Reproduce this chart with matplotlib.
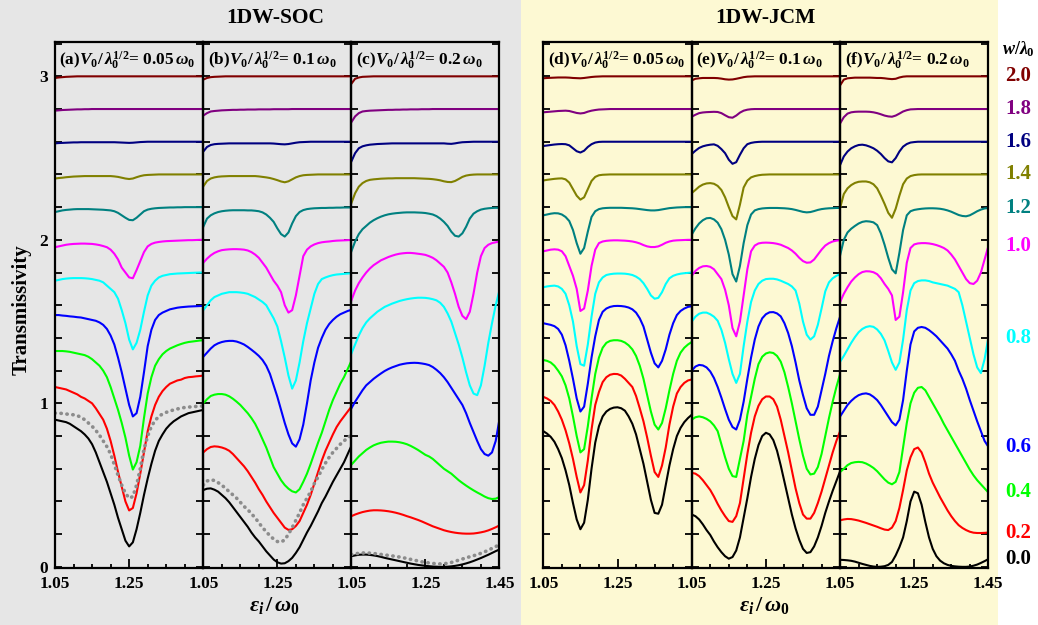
import numpy as np
import matplotlib.pyplot as plt
from matplotlib.patches import Rectangle
from matplotlib.ticker import MultipleLocator
from matplotlib.transforms import blended_transform_factory

plt.rcParams['font.family'] = 'Liberation Serif'
plt.rcParams['font.weight'] = 'bold'
plt.rcParams['mathtext.fontset'] = 'custom'
plt.rcParams['mathtext.rm'] = 'Liberation Serif:bold'
plt.rcParams['mathtext.it'] = 'Liberation Serif:italic:bold'
plt.rcParams['mathtext.bf'] = 'Liberation Serif:bold'
plt.rcParams['axes.linewidth'] = 1.6

# incident energy eps_i / omega_0, sampled every 0.01
eps = np.linspace(1.05, 1.45, 41)

# wall width w / lambda_0 ; each curve is shifted up by its own w
widths = [0.0, 0.2, 0.4, 0.6, 0.8, 1.0, 1.2, 1.4, 1.6, 1.8, 2.0]
width_labels = ['0.0', '0.2', '0.4', '0.6', '0.8', '1.0', '1.2', '1.4', '1.6', '1.8', '2.0']
colors = ['#000000', '#ff0000', '#00ff00', '#0000ff', '#00ffff', '#ff00ff',
          '#008080', '#808000', '#000080', '#800080', '#800000']

# ---------------- 1DW-SOC, V0/sqrt(lambda0) = 0.05 w0 ----------------
soc_a = [
    [0.90, 0.895, 0.89, 0.885, 0.875, 0.86, 0.845, 0.83, 0.81, 0.785,
     0.75, 0.70, 0.64, 0.58, 0.52, 0.45, 0.38, 0.30, 0.23, 0.16,
     0.125, 0.15, 0.23, 0.33, 0.44, 0.54, 0.63, 0.71, 0.77, 0.81,
     0.845, 0.87, 0.89, 0.905, 0.92, 0.93, 0.94, 0.945, 0.95, 0.955, 0.96],
    [0.90, 0.895, 0.89, 0.885, 0.875, 0.865, 0.855, 0.84, 0.83, 0.815,
     0.80, 0.77, 0.735, 0.70, 0.645, 0.57, 0.48, 0.38, 0.29, 0.20,
     0.145, 0.16, 0.25, 0.37, 0.50, 0.63, 0.72, 0.79, 0.84, 0.875,
     0.90, 0.92, 0.93, 0.94, 0.945, 0.955, 0.96, 0.962, 0.965, 0.967, 0.97],
    [0.92, 0.92, 0.92, 0.918, 0.915, 0.91, 0.905, 0.90, 0.895, 0.885,
     0.87, 0.85, 0.83, 0.80, 0.76, 0.70, 0.63, 0.56, 0.48, 0.39,
     0.28, 0.195, 0.24, 0.34, 0.51, 0.66, 0.76, 0.83, 0.87, 0.90,
     0.92, 0.935, 0.945, 0.955, 0.963, 0.97, 0.975, 0.978, 0.981, 0.984, 0.986],
    [0.94, 0.94, 0.937, 0.935, 0.932, 0.93, 0.927, 0.925, 0.92, 0.915,
     0.91, 0.905, 0.895, 0.88, 0.855, 0.815, 0.76, 0.68, 0.59, 0.49,
     0.39, 0.32, 0.34, 0.44, 0.59, 0.75, 0.85, 0.91, 0.94, 0.955,
     0.965, 0.975, 0.98, 0.985, 0.988, 0.99, 0.992, 0.993, 0.994, 0.995, 0.996],
    [0.95, 0.955, 0.96, 0.963, 0.965, 0.966, 0.966, 0.966, 0.965, 0.963,
     0.96, 0.955, 0.95, 0.94, 0.92, 0.90, 0.88, 0.84, 0.77, 0.69,
     0.59, 0.53, 0.57, 0.65, 0.76, 0.86, 0.92, 0.95, 0.97, 0.98,
     0.985, 0.99, 0.992, 0.994, 0.995, 0.996, 0.997, 0.998, 0.999, 1.0, 1.0],
    [0.955, 0.96, 0.965, 0.97, 0.973, 0.975, 0.976, 0.977, 0.977, 0.976,
     0.975, 0.972, 0.968, 0.962, 0.955, 0.94, 0.915, 0.88, 0.83, 0.80,
     0.77, 0.765, 0.815, 0.87, 0.925, 0.96, 0.975, 0.983, 0.987, 0.99,
     0.992, 0.993, 0.994, 0.995, 0.996, 0.997, 0.998, 0.998, 0.999, 1.0, 1.0],
    [0.97, 0.975, 0.98, 0.983, 0.985, 0.987, 0.988, 0.988, 0.988, 0.988,
     0.987, 0.986, 0.985, 0.984, 0.982, 0.98, 0.975, 0.965, 0.95, 0.935,
     0.922, 0.92, 0.935, 0.955, 0.975, 0.985, 0.99, 0.993, 0.995, 0.996,
     0.997, 0.998, 0.998, 0.999, 0.999, 1.0, 1.0, 1.0, 1.0, 1.0, 1.0],
    [0.975, 0.978, 0.98, 0.983, 0.985, 0.987, 0.988, 0.989, 0.99, 0.99,
     0.99, 0.99, 0.99, 0.99, 0.99, 0.99, 0.988, 0.985, 0.98, 0.975,
     0.972, 0.975, 0.983, 0.99, 0.995, 0.997, 0.998, 0.999, 1.0, 1.0,
     1.0, 1.0, 1.0, 1.0, 1.0, 1.0, 1.0, 1.0, 1.0, 1.0, 1.0],
    [0.99, 0.992, 0.993, 0.994, 0.995, 0.996, 0.996, 0.997, 0.997, 0.997,
     0.997, 0.997, 0.997, 0.997, 0.997, 0.997, 0.997, 0.996, 0.995, 0.994,
     0.993, 0.994, 0.996, 0.998, 0.999, 1.0, 1.0, 1.0, 1.0, 1.0,
     1.0, 1.0, 1.0, 1.0, 1.0, 1.0, 1.0, 1.0, 1.0, 1.0, 1.0],
    [0.99, 0.992, 0.994, 0.995, 0.996, 0.997, 0.998, 0.998, 0.999, 0.999,
     1.0, 1.0, 1.0, 1.0, 1.0, 1.0, 1.0, 1.0, 1.0, 1.0,
     1.0, 1.0, 1.0, 1.0, 1.0, 1.0, 1.0, 1.0, 1.0, 1.0,
     1.0, 1.0, 1.0, 1.0, 1.0, 1.0, 1.0, 1.0, 1.0, 1.0, 1.0],
    [0.99, 0.993, 0.995, 0.997, 0.998, 0.999, 1.0, 1.0, 1.0, 1.0,
     1.0, 1.0, 1.0, 1.0, 1.0, 1.0, 1.0, 1.0, 1.0, 1.0,
     1.0, 1.0, 1.0, 1.0, 1.0, 1.0, 1.0, 1.0, 1.0, 1.0,
     1.0, 1.0, 1.0, 1.0, 1.0, 1.0, 1.0, 1.0, 1.0, 1.0, 1.0],
]
soc_a_ref = [0.94, 0.94, 0.938, 0.935, 0.932, 0.93, 0.925, 0.915, 0.90, 0.88,
             0.86, 0.835, 0.805, 0.77, 0.735, 0.69, 0.625, 0.56, 0.50, 0.45,
             0.42, 0.43, 0.50, 0.60, 0.72, 0.80, 0.86, 0.895, 0.92, 0.935,
             0.945, 0.953, 0.96, 0.966, 0.97, 0.975, 0.977, 0.979, 0.981, 0.983, 0.984]

# ---------------- 1DW-SOC, V0/sqrt(lambda0) = 0.1 w0 ----------------
soc_b = [
    [0.47, 0.478, 0.48, 0.472, 0.46, 0.44, 0.42, 0.395, 0.365, 0.335,
     0.305, 0.275, 0.245, 0.21, 0.18, 0.155, 0.125, 0.095, 0.07, 0.045,
     0.028, 0.02, 0.022, 0.035, 0.055, 0.085, 0.12, 0.165, 0.21, 0.25,
     0.295, 0.34, 0.39, 0.43, 0.475, 0.52, 0.56, 0.60, 0.64, 0.69, 0.74],
    [0.50, 0.52, 0.533, 0.537, 0.535, 0.53, 0.522, 0.51, 0.49, 0.465,
     0.44, 0.415, 0.385, 0.35, 0.315, 0.275, 0.24, 0.20, 0.165, 0.13,
     0.10, 0.07, 0.04, 0.026, 0.03, 0.05, 0.08, 0.13, 0.18, 0.24,
     0.31, 0.38, 0.45, 0.51, 0.56, 0.61, 0.655, 0.69, 0.72, 0.75, 0.78],
    [0.60, 0.625, 0.645, 0.653, 0.657, 0.657, 0.653, 0.643, 0.628, 0.61,
     0.59, 0.565, 0.54, 0.51, 0.475, 0.43, 0.38, 0.33, 0.27, 0.21,
     0.17, 0.13, 0.10, 0.078, 0.062, 0.055, 0.075, 0.12, 0.17, 0.23,
     0.295, 0.36, 0.42, 0.49, 0.56, 0.62, 0.67, 0.72, 0.76, 0.81, 0.86],
    [0.685, 0.71, 0.735, 0.755, 0.767, 0.775, 0.78, 0.782, 0.782, 0.778,
     0.77, 0.76, 0.745, 0.728, 0.71, 0.69, 0.665, 0.63, 0.58, 0.51,
     0.44, 0.36, 0.28, 0.21, 0.155, 0.135, 0.18, 0.27, 0.40, 0.54,
     0.65, 0.74, 0.80, 0.85, 0.885, 0.91, 0.93, 0.945, 0.955, 0.965, 0.972],
    [0.77, 0.80, 0.83, 0.85, 0.86, 0.87, 0.875, 0.88, 0.88, 0.88,
     0.878, 0.875, 0.87, 0.86, 0.85, 0.835, 0.82, 0.80, 0.76, 0.72,
     0.67, 0.58, 0.48, 0.37, 0.29, 0.34, 0.45, 0.58, 0.69, 0.78,
     0.87, 0.93, 0.96, 0.97, 0.978, 0.984, 0.988, 0.99, 0.992, 0.994, 0.995],
    [0.86, 0.885, 0.905, 0.92, 0.93, 0.937, 0.94, 0.942, 0.943, 0.943,
     0.942, 0.94, 0.935, 0.925, 0.91, 0.89, 0.86, 0.83, 0.79, 0.75,
     0.72, 0.68, 0.60, 0.555, 0.57, 0.66, 0.78, 0.90, 0.94, 0.96,
     0.972, 0.98, 0.985, 0.988, 0.99, 0.993, 0.995, 0.996, 0.997, 0.998, 0.999],
    [0.88, 0.93, 0.95, 0.962, 0.97, 0.975, 0.978, 0.98, 0.981, 0.981,
     0.981, 0.981, 0.98, 0.98, 0.978, 0.975, 0.968, 0.955, 0.935, 0.91,
     0.87, 0.835, 0.82, 0.845, 0.90, 0.945, 0.97, 0.982, 0.988, 0.991,
     0.993, 0.994, 0.995, 0.995, 0.996, 0.996, 0.997, 0.997, 0.998, 0.998, 0.998],
    [0.927, 0.96, 0.975, 0.982, 0.986, 0.988, 0.989, 0.99, 0.99, 0.99,
     0.99, 0.99, 0.99, 0.99, 0.99, 0.988, 0.985, 0.982, 0.978, 0.972,
     0.965, 0.957, 0.952, 0.958, 0.97, 0.982, 0.99, 0.995, 0.997, 0.998,
     0.999, 1.0, 1.0, 1.0, 1.0, 1.0, 1.0, 1.0, 1.0, 1.0, 1.0],
    [0.94, 0.968, 0.98, 0.985, 0.987, 0.988, 0.989, 0.99, 0.99, 0.99,
     0.99, 0.99, 0.99, 0.99, 0.99, 0.99, 0.99, 0.99, 0.99, 0.989,
     0.987, 0.985, 0.984, 0.986, 0.99, 0.994, 0.997, 0.998, 0.999, 1.0,
     1.0, 1.0, 1.0, 1.0, 1.0, 1.0, 1.0, 1.0, 1.0, 1.0, 1.0],
    [0.96, 0.975, 0.985, 0.988, 0.99, 0.992, 0.993, 0.994, 0.995, 0.995,
     0.996, 0.996, 0.997, 0.997, 0.997, 0.998, 0.998, 0.998, 0.998, 0.999,
     0.999, 0.999, 0.999, 0.999, 1.0, 1.0, 1.0, 1.0, 1.0, 1.0,
     1.0, 1.0, 1.0, 1.0, 1.0, 1.0, 1.0, 1.0, 1.0, 1.0, 1.0],
    [0.98, 0.99, 0.995, 0.997, 0.998, 0.999, 1.0, 1.0, 1.0, 1.0,
     1.0, 1.0, 1.0, 1.0, 1.0, 1.0, 1.0, 1.0, 1.0, 1.0,
     1.0, 1.0, 1.0, 1.0, 1.0, 1.0, 1.0, 1.0, 1.0, 1.0,
     1.0, 1.0, 1.0, 1.0, 1.0, 1.0, 1.0, 1.0, 1.0, 1.0, 1.0],
]
soc_b_ref = [0.50, 0.525, 0.533, 0.528, 0.515, 0.50, 0.48, 0.46, 0.44, 0.42,
             0.395, 0.37, 0.35, 0.325, 0.30, 0.27, 0.24, 0.215, 0.19, 0.17,
             0.155, 0.152, 0.165, 0.20, 0.24, 0.285, 0.33, 0.38, 0.42, 0.46,
             0.51, 0.55, 0.595, 0.635, 0.67, 0.70, 0.725, 0.75, 0.77, 0.79, 0.805]

# ---------------- 1DW-SOC, V0/sqrt(lambda0) = 0.2 w0 ----------------
soc_c = [
    [0.065, 0.07, 0.074, 0.075, 0.075, 0.073, 0.07, 0.066, 0.061, 0.055,
     0.05, 0.045, 0.04, 0.035, 0.03, 0.025, 0.02, 0.016, 0.012, 0.009,
     0.006, 0.004, 0.002, 0.001, 0.0, 0.0, 0.001, 0.003, 0.006, 0.01,
     0.015, 0.021, 0.028, 0.036, 0.045, 0.054, 0.064, 0.074, 0.085, 0.096, 0.106],
    [0.11, 0.12, 0.128, 0.135, 0.14, 0.144, 0.146, 0.146, 0.145, 0.143,
     0.14, 0.136, 0.131, 0.125, 0.118, 0.11, 0.103, 0.095, 0.087, 0.078,
     0.068, 0.058, 0.048, 0.04, 0.032, 0.024, 0.018, 0.013, 0.009, 0.006,
     0.004, 0.003, 0.003, 0.004, 0.007, 0.011, 0.016, 0.023, 0.032, 0.042, 0.053],
    [0.225, 0.25, 0.275, 0.295, 0.315, 0.33, 0.343, 0.352, 0.359, 0.363,
     0.366, 0.366, 0.365, 0.362, 0.357, 0.35, 0.34, 0.328, 0.315, 0.30,
     0.285, 0.275, 0.26, 0.24, 0.22, 0.20, 0.185, 0.17, 0.15, 0.13,
     0.113, 0.097, 0.082, 0.068, 0.055, 0.043, 0.03, 0.02, 0.015, 0.017, 0.027],
    [0.37, 0.41, 0.445, 0.48, 0.51, 0.53, 0.55, 0.567, 0.583, 0.598,
     0.61, 0.62, 0.628, 0.636, 0.641, 0.645, 0.647, 0.648, 0.647, 0.644,
     0.64, 0.634, 0.622, 0.605, 0.585, 0.56, 0.53, 0.495, 0.46, 0.425,
     0.39, 0.34, 0.28, 0.225, 0.17, 0.12, 0.09, 0.08, 0.10, 0.17, 0.30],
    [0.505, 0.56, 0.615, 0.66, 0.695, 0.72, 0.74, 0.76, 0.775, 0.79,
     0.80, 0.81, 0.818, 0.826, 0.832, 0.837, 0.841, 0.844, 0.846, 0.846,
     0.845, 0.842, 0.837, 0.83, 0.815, 0.79, 0.75, 0.70, 0.63, 0.56,
     0.48, 0.39, 0.31, 0.26, 0.25, 0.31, 0.43, 0.57, 0.69, 0.80, 0.89],
    [0.63, 0.69, 0.735, 0.77, 0.80, 0.825, 0.845, 0.86, 0.875, 0.885,
     0.895, 0.903, 0.91, 0.915, 0.918, 0.92, 0.92, 0.918, 0.915, 0.912,
     0.908, 0.90, 0.89, 0.875, 0.855, 0.835, 0.80, 0.74, 0.67, 0.59,
     0.535, 0.515, 0.56, 0.67, 0.80, 0.90, 0.95, 0.97, 0.98, 0.985, 0.99],
    [0.73, 0.79, 0.835, 0.865, 0.885, 0.905, 0.92, 0.932, 0.942, 0.95,
     0.956, 0.96, 0.963, 0.965, 0.967, 0.968, 0.968, 0.968, 0.967, 0.966,
     0.964, 0.96, 0.955, 0.945, 0.93, 0.91, 0.885, 0.85, 0.825, 0.82,
     0.84, 0.88, 0.93, 0.96, 0.975, 0.985, 0.99, 0.993, 0.995, 0.996, 0.996],
    [0.825, 0.885, 0.925, 0.947, 0.96, 0.967, 0.97, 0.972, 0.974, 0.975,
     0.976, 0.976, 0.977, 0.977, 0.977, 0.977, 0.977, 0.977, 0.976, 0.975,
     0.974, 0.973, 0.971, 0.968, 0.964, 0.958, 0.954, 0.953, 0.96, 0.972,
     0.985, 0.993, 0.997, 0.999, 1.0, 1.0, 1.0, 1.0, 1.0, 1.0, 1.0],
    [0.88, 0.93, 0.96, 0.972, 0.978, 0.982, 0.984, 0.986, 0.987, 0.988,
     0.989, 0.99, 0.99, 0.99, 0.99, 0.99, 0.99, 0.99, 0.99, 0.99,
     0.99, 0.99, 0.99, 0.99, 0.99, 0.99, 0.988, 0.987, 0.99, 0.994,
     0.997, 0.998, 0.999, 1.0, 1.0, 1.0, 1.0, 1.0, 1.0, 1.0, 1.0],
    [0.92, 0.955, 0.975, 0.985, 0.988, 0.99, 0.991, 0.992, 0.993, 0.994,
     0.995, 0.995, 0.996, 0.996, 0.997, 0.997, 0.998, 0.998, 0.998, 0.999,
     0.999, 0.999, 1.0, 1.0, 1.0, 1.0, 1.0, 1.0, 1.0, 1.0,
     1.0, 1.0, 1.0, 1.0, 1.0, 1.0, 1.0, 1.0, 1.0, 1.0, 1.0],
    [0.955, 0.985, 0.993, 0.997, 0.998, 0.999, 1.0, 1.0, 1.0, 1.0,
     1.0, 1.0, 1.0, 1.0, 1.0, 1.0, 1.0, 1.0, 1.0, 1.0,
     1.0, 1.0, 1.0, 1.0, 1.0, 1.0, 1.0, 1.0, 1.0, 1.0,
     1.0, 1.0, 1.0, 1.0, 1.0, 1.0, 1.0, 1.0, 1.0, 1.0, 1.0],
]
soc_c_ref = [0.075, 0.08, 0.083, 0.085, 0.085, 0.084, 0.082, 0.079, 0.076, 0.073,
             0.07, 0.067, 0.064, 0.06, 0.056, 0.051, 0.046, 0.041, 0.036, 0.031,
             0.027, 0.024, 0.021, 0.019, 0.018, 0.019, 0.022, 0.027, 0.034, 0.041,
             0.048, 0.055, 0.062, 0.068, 0.075, 0.083, 0.092, 0.102, 0.113, 0.124, 0.136]

# ---------------- 1DW-JCM, V0/sqrt(lambda0) = 0.05 w0 ----------------
jcm_d = [
    [0.83, 0.815, 0.795, 0.765, 0.72, 0.665, 0.59, 0.50, 0.39, 0.29,
     0.23, 0.27, 0.41, 0.60, 0.76, 0.86, 0.92, 0.95, 0.966, 0.974,
     0.976, 0.97, 0.955, 0.92, 0.875, 0.81, 0.72, 0.63, 0.52, 0.41,
     0.33, 0.325, 0.38, 0.50, 0.62, 0.72, 0.80, 0.85, 0.885, 0.91, 0.93],
    [0.84, 0.83, 0.815, 0.79, 0.75, 0.70, 0.635, 0.555, 0.46, 0.35,
     0.255, 0.30, 0.45, 0.64, 0.79, 0.87, 0.93, 0.96, 0.975, 0.98,
     0.979, 0.97, 0.95, 0.925, 0.90, 0.845, 0.77, 0.69, 0.59, 0.48,
     0.38, 0.35, 0.42, 0.53, 0.67, 0.78, 0.86, 0.90, 0.925, 0.94, 0.946],
    [0.865, 0.86, 0.85, 0.83, 0.80, 0.765, 0.71, 0.63, 0.52, 0.40,
     0.30, 0.32, 0.46, 0.63, 0.78, 0.88, 0.94, 0.97, 0.982, 0.986,
     0.986, 0.982, 0.972, 0.955, 0.93, 0.89, 0.83, 0.75, 0.65, 0.55,
     0.47, 0.44, 0.48, 0.57, 0.68, 0.78, 0.86, 0.91, 0.94, 0.96, 0.975],
    [0.89, 0.885, 0.88, 0.872, 0.855, 0.82, 0.755, 0.66, 0.55, 0.43,
     0.35, 0.38, 0.52, 0.68, 0.81, 0.91, 0.96, 0.98, 0.99, 0.995,
     0.996, 0.995, 0.992, 0.986, 0.975, 0.955, 0.92, 0.87, 0.79, 0.71,
     0.645, 0.62, 0.66, 0.73, 0.82, 0.89, 0.94, 0.965, 0.98, 0.99, 0.994],
    [0.91, 0.915, 0.918, 0.92, 0.915, 0.90, 0.87, 0.80, 0.70, 0.55,
     0.44, 0.43, 0.56, 0.73, 0.87, 0.94, 0.97, 0.985, 0.99, 0.993,
     0.994, 0.994, 0.993, 0.99, 0.985, 0.975, 0.96, 0.935, 0.90, 0.86,
     0.84, 0.845, 0.88, 0.93, 0.965, 0.98, 0.988, 0.993, 0.996, 0.998, 1.0],
    [0.93, 0.935, 0.94, 0.942, 0.94, 0.93, 0.90, 0.84, 0.78, 0.70,
     0.565, 0.58, 0.69, 0.84, 0.94, 0.98, 0.99, 0.994, 0.996, 0.997,
     0.997, 0.996, 0.995, 0.993, 0.99, 0.985, 0.978, 0.968, 0.96, 0.956,
     0.956, 0.96, 0.97, 0.982, 0.99, 0.995, 0.997, 0.998, 0.999, 1.0, 1.0],
    [0.95, 0.955, 0.96, 0.963, 0.962, 0.955, 0.94, 0.915, 0.86, 0.78,
     0.715, 0.75, 0.85, 0.94, 0.975, 0.988, 0.993, 0.995, 0.996, 0.996,
     0.996, 0.996, 0.995, 0.994, 0.993, 0.991, 0.988, 0.985, 0.982, 0.98,
     0.98, 0.982, 0.986, 0.99, 0.994, 0.996, 0.998, 0.999, 1.0, 1.0, 1.0],
    [0.963, 0.967, 0.97, 0.973, 0.975, 0.976, 0.97, 0.95, 0.91, 0.87,
     0.846, 0.86, 0.91, 0.96, 0.985, 0.995, 0.998, 0.999, 1.0, 1.0,
     1.0, 1.0, 1.0, 1.0, 1.0, 1.0, 1.0, 1.0, 1.0, 1.0,
     1.0, 1.0, 1.0, 1.0, 1.0, 1.0, 1.0, 1.0, 1.0, 1.0, 1.0],
    [0.974, 0.977, 0.98, 0.983, 0.985, 0.986, 0.985, 0.978, 0.96, 0.942,
     0.934, 0.945, 0.968, 0.985, 0.995, 0.999, 1.0, 1.0, 1.0, 1.0,
     1.0, 1.0, 1.0, 1.0, 1.0, 1.0, 1.0, 1.0, 1.0, 1.0,
     1.0, 1.0, 1.0, 1.0, 1.0, 1.0, 1.0, 1.0, 1.0, 1.0, 1.0],
    [0.98, 0.982, 0.984, 0.986, 0.988, 0.989, 0.99, 0.988, 0.982, 0.976,
     0.973, 0.976, 0.984, 0.99, 0.994, 0.997, 0.998, 0.999, 1.0, 1.0,
     1.0, 1.0, 1.0, 1.0, 1.0, 1.0, 1.0, 1.0, 1.0, 1.0,
     1.0, 1.0, 1.0, 1.0, 1.0, 1.0, 1.0, 1.0, 1.0, 1.0, 1.0],
    [0.988, 0.99, 0.991, 0.992, 0.993, 0.993, 0.993, 0.992, 0.99, 0.989,
     0.988, 0.99, 0.993, 0.996, 0.998, 0.999, 1.0, 1.0, 1.0, 1.0,
     1.0, 1.0, 1.0, 1.0, 1.0, 1.0, 1.0, 1.0, 1.0, 1.0,
     1.0, 1.0, 1.0, 1.0, 1.0, 1.0, 1.0, 1.0, 1.0, 1.0, 1.0],
]

# ---------------- 1DW-JCM, V0/sqrt(lambda0) = 0.1 w0 ----------------
jcm_e = [
    [0.32, 0.31, 0.29, 0.26, 0.225, 0.195, 0.155, 0.12, 0.09, 0.065,
     0.05, 0.06, 0.10, 0.18, 0.30, 0.42, 0.55, 0.66, 0.745, 0.80,
     0.82, 0.81, 0.775, 0.71, 0.62, 0.52, 0.42, 0.32, 0.235, 0.165,
     0.11, 0.085, 0.09, 0.125, 0.18, 0.25, 0.33, 0.40, 0.465, 0.525, 0.585],
    [0.375, 0.37, 0.355, 0.33, 0.30, 0.27, 0.23, 0.185, 0.145, 0.11,
     0.08, 0.075, 0.11, 0.19, 0.34, 0.49, 0.62, 0.72, 0.785, 0.825,
     0.842, 0.842, 0.825, 0.78, 0.70, 0.60, 0.50, 0.39, 0.28, 0.19,
     0.12, 0.095, 0.095, 0.13, 0.19, 0.26, 0.34, 0.42, 0.50, 0.57, 0.63],
    [0.50, 0.515, 0.52, 0.515, 0.505, 0.49, 0.465, 0.43, 0.35, 0.27,
     0.20, 0.155, 0.15, 0.26, 0.37, 0.53, 0.64, 0.75, 0.84, 0.885,
     0.905, 0.912, 0.908, 0.89, 0.855, 0.79, 0.70, 0.60, 0.49, 0.38,
     0.28, 0.20, 0.165, 0.17, 0.21, 0.29, 0.40, 0.51, 0.61, 0.70, 0.78],
    [0.60, 0.625, 0.635, 0.632, 0.62, 0.595, 0.555, 0.50, 0.435, 0.365,
     0.30, 0.255, 0.24, 0.30, 0.41, 0.55, 0.68, 0.79, 0.87, 0.92,
     0.945, 0.957, 0.958, 0.95, 0.932, 0.89, 0.83, 0.75, 0.65, 0.54,
     0.45, 0.37, 0.33, 0.33, 0.38, 0.48, 0.58, 0.69, 0.78, 0.86, 0.93],
    [0.70, 0.73, 0.748, 0.755, 0.755, 0.745, 0.73, 0.705, 0.65, 0.57,
     0.47, 0.38, 0.325, 0.38, 0.55, 0.70, 0.82, 0.89, 0.93, 0.95,
     0.96, 0.962, 0.962, 0.958, 0.95, 0.94, 0.93, 0.915, 0.89, 0.81,
     0.70, 0.62, 0.59, 0.61, 0.68, 0.78, 0.885, 0.94, 0.965, 0.98, 0.99],
    [0.78, 0.81, 0.828, 0.838, 0.84, 0.835, 0.82, 0.79, 0.76, 0.695,
     0.60, 0.46, 0.41, 0.50, 0.66, 0.82, 0.93, 0.965, 0.978, 0.982,
     0.983, 0.982, 0.98, 0.976, 0.97, 0.96, 0.95, 0.935, 0.915, 0.89,
     0.87, 0.86, 0.862, 0.88, 0.91, 0.94, 0.965, 0.98, 0.99, 0.995, 0.998],
    [0.832, 0.87, 0.90, 0.92, 0.932, 0.934, 0.925, 0.905, 0.865, 0.80,
     0.71, 0.59, 0.545, 0.64, 0.78, 0.89, 0.955, 0.98, 0.988, 0.992,
     0.994, 0.995, 0.995, 0.995, 0.994, 0.993, 0.991, 0.988, 0.983, 0.977,
     0.971, 0.968, 0.97, 0.976, 0.983, 0.988, 0.991, 0.993, 0.994, 0.995, 0.995],
    [0.886, 0.905, 0.925, 0.938, 0.945, 0.947, 0.943, 0.93, 0.905, 0.86,
     0.80, 0.745, 0.725, 0.815, 0.92, 0.962, 0.982, 0.99, 0.995, 0.998,
     0.999, 1.0, 1.0, 1.0, 1.0, 1.0, 1.0, 1.0, 1.0, 1.0,
     1.0, 1.0, 1.0, 1.0, 1.0, 1.0, 1.0, 1.0, 1.0, 1.0, 1.0],
    [0.925, 0.945, 0.962, 0.972, 0.978, 0.982, 0.984, 0.975, 0.955, 0.93,
     0.89, 0.865, 0.875, 0.92, 0.96, 0.985, 0.993, 0.997, 0.999, 1.0,
     1.0, 1.0, 1.0, 1.0, 1.0, 1.0, 1.0, 1.0, 1.0, 1.0,
     1.0, 1.0, 1.0, 1.0, 1.0, 1.0, 1.0, 1.0, 1.0, 1.0, 1.0],
    [0.953, 0.965, 0.975, 0.979, 0.981, 0.982, 0.983, 0.982, 0.975, 0.962,
     0.95, 0.947, 0.96, 0.978, 0.99, 0.996, 0.999, 1.0, 1.0, 1.0,
     1.0, 1.0, 1.0, 1.0, 1.0, 1.0, 1.0, 1.0, 1.0, 1.0,
     1.0, 1.0, 1.0, 1.0, 1.0, 1.0, 1.0, 1.0, 1.0, 1.0, 1.0],
    [0.975, 0.985, 0.988, 0.99, 0.99, 0.99, 0.99, 0.989, 0.986, 0.982,
     0.98, 0.981, 0.985, 0.99, 0.995, 0.998, 0.999, 1.0, 1.0, 1.0,
     1.0, 1.0, 1.0, 1.0, 1.0, 1.0, 1.0, 1.0, 1.0, 1.0,
     1.0, 1.0, 1.0, 1.0, 1.0, 1.0, 1.0, 1.0, 1.0, 1.0, 1.0],
]

# ---------------- 1DW-JCM, V0/sqrt(lambda0) = 0.2 w0 ----------------
jcm_f = [
    [0.043, 0.042, 0.04, 0.037, 0.032, 0.025, 0.018, 0.012, 0.006, 0.002,
     0.0, 0.001, 0.004, 0.012, 0.03, 0.07, 0.12, 0.18, 0.28, 0.40,
     0.46, 0.45, 0.38, 0.275, 0.18, 0.11, 0.065, 0.038, 0.022, 0.012,
     0.006, 0.003, 0.001, 0.0, 0.0, 0.002, 0.007, 0.014, 0.024, 0.035, 0.047],
    [0.085, 0.09, 0.093, 0.092, 0.088, 0.083, 0.076, 0.069, 0.061, 0.053,
     0.045, 0.036, 0.028, 0.025, 0.04, 0.08, 0.16, 0.27, 0.39, 0.47,
     0.52, 0.53, 0.50, 0.44, 0.37, 0.315, 0.27, 0.225, 0.185, 0.145,
     0.11, 0.08, 0.055, 0.038, 0.025, 0.015, 0.009, 0.007, 0.007, 0.008, 0.01],
    [0.18, 0.20, 0.222, 0.235, 0.24, 0.242, 0.24, 0.232, 0.22, 0.205,
     0.185, 0.16, 0.135, 0.115, 0.105, 0.12, 0.18, 0.33, 0.48, 0.60,
     0.665, 0.695, 0.70, 0.68, 0.64, 0.60, 0.56, 0.52, 0.475, 0.435,
     0.395, 0.355, 0.315, 0.275, 0.235, 0.195, 0.16, 0.13, 0.105, 0.08, 0.055],
    [0.32, 0.355, 0.39, 0.415, 0.435, 0.45, 0.458, 0.461, 0.455, 0.44,
     0.42, 0.39, 0.355, 0.32, 0.285, 0.265, 0.30, 0.42, 0.60, 0.76,
     0.84, 0.862, 0.867, 0.862, 0.848, 0.83, 0.81, 0.785, 0.76, 0.735,
     0.70, 0.66, 0.60, 0.55, 0.49, 0.42, 0.355, 0.29, 0.23, 0.17, 0.135],
    [0.455, 0.49, 0.53, 0.57, 0.605, 0.635, 0.655, 0.667, 0.672, 0.668,
     0.652, 0.625, 0.585, 0.52, 0.45, 0.405, 0.45, 0.59, 0.77, 0.89,
     0.935, 0.948, 0.952, 0.952, 0.948, 0.94, 0.935, 0.93, 0.925, 0.92,
     0.91, 0.90, 0.88, 0.80, 0.70, 0.60, 0.50, 0.42, 0.385, 0.47, 0.60],
    [0.62, 0.67, 0.71, 0.745, 0.77, 0.79, 0.803, 0.808, 0.807, 0.802,
     0.79, 0.765, 0.73, 0.70, 0.66, 0.51, 0.53, 0.68, 0.86, 0.95,
     0.972, 0.978, 0.98, 0.98, 0.978, 0.974, 0.968, 0.96, 0.95, 0.935,
     0.91, 0.88, 0.84, 0.80, 0.76, 0.735, 0.73, 0.75, 0.80, 0.88, 0.96],
    [0.705, 0.80, 0.845, 0.868, 0.885, 0.90, 0.91, 0.914, 0.912, 0.907,
     0.89, 0.84, 0.77, 0.69, 0.62, 0.595, 0.72, 0.86, 0.95, 0.975,
     0.983, 0.987, 0.99, 0.992, 0.993, 0.993, 0.992, 0.99, 0.986, 0.98,
     0.972, 0.962, 0.952, 0.946, 0.944, 0.95, 0.962, 0.975, 0.985, 0.992, 0.995],
    [0.795, 0.88, 0.915, 0.935, 0.948, 0.955, 0.957, 0.957, 0.952, 0.94,
     0.915, 0.87, 0.82, 0.765, 0.735, 0.79, 0.87, 0.94, 0.975, 0.99,
     0.996, 0.999, 1.0, 1.0, 1.0, 1.0, 1.0, 1.0, 1.0, 1.0,
     1.0, 1.0, 1.0, 1.0, 1.0, 1.0, 1.0, 1.0, 1.0, 1.0, 1.0],
    [0.858, 0.91, 0.94, 0.96, 0.972, 0.98, 0.982, 0.978, 0.97, 0.96,
     0.945, 0.925, 0.90, 0.88, 0.874, 0.90, 0.94, 0.97, 0.986, 0.995,
     0.998, 1.0, 1.0, 1.0, 1.0, 1.0, 1.0, 1.0, 1.0, 1.0,
     1.0, 1.0, 1.0, 1.0, 1.0, 1.0, 1.0, 1.0, 1.0, 1.0, 1.0],
    [0.912, 0.95, 0.972, 0.98, 0.983, 0.984, 0.984, 0.984, 0.983, 0.98,
     0.975, 0.968, 0.96, 0.955, 0.953, 0.96, 0.972, 0.985, 0.993, 0.998,
     0.999, 1.0, 1.0, 1.0, 1.0, 1.0, 1.0, 1.0, 1.0, 1.0,
     1.0, 1.0, 1.0, 1.0, 1.0, 1.0, 1.0, 1.0, 1.0, 1.0, 1.0],
    [0.945, 0.98, 0.988, 0.99, 0.992, 0.992, 0.992, 0.992, 0.992, 0.991,
     0.99, 0.99, 0.988, 0.985, 0.983, 0.985, 0.993, 0.998, 1.0, 1.0,
     1.0, 1.0, 1.0, 1.0, 1.0, 1.0, 1.0, 1.0, 1.0, 1.0,
     1.0, 1.0, 1.0, 1.0, 1.0, 1.0, 1.0, 1.0, 1.0, 1.0, 1.0],
]

panel_tags = ['(a)', '(b)', '(c)', '(d)', '(e)', '(f)']
panel_v0 = ['0.05', '0.1', '0.2', '0.05', '0.1', '0.2']
panel_curves = [soc_a, soc_b, soc_c, jcm_d, jcm_e, jcm_f]
panel_refs = [soc_a_ref, soc_b_ref, soc_c_ref, None, None, None]

for curves in panel_curves:
    assert all(len(t) == len(eps) for t in curves)

W, H = 1038, 625
fig = plt.figure(figsize=(W / 100, H / 100), dpi=100)

# shaded backgrounds for the two model groups
fig.patches.append(Rectangle((0, 0), 521 / W, 1, transform=fig.transFigure,
                             facecolor='#e6e6e6', edgecolor='none', zorder=-10))
fig.patches.append(Rectangle((521 / W, 0), (998 - 521) / W, 1, transform=fig.transFigure,
                             facecolor='#fdf9d3', edgecolor='none', zorder=-10))

# axes boxes in pixels (left, right)
edges = [(55, 203.3), (203.3, 351.4), (351.4, 499.4),
         (543.3, 691.7), (691.7, 840.1), (840.1, 988.3)]
top_px, bottom_px = 42, 568

axes = []
for i, (x0, x1) in enumerate(edges):
    ax = fig.add_axes([x0 / W, (H - bottom_px) / H, (x1 - x0) / W, (bottom_px - top_px) / H])
    ax.set_facecolor('none')
    for w, t, c in zip(widths, panel_curves[i], colors):
        ax.plot(eps, w + np.asarray(t), color=c, lw=1.5)
    if panel_refs[i] is not None:
        ax.plot(eps, panel_refs[i], color='#8c8c8c', lw=2.6,
                ls=(0, (0.1, 1.55)), dash_capstyle='round')

    ax.set_xlim(1.05, 1.45)
    ax.set_ylim(-0.007, 3.21)
    ax.set_xticks([1.05, 1.25, 1.45])
    ax.xaxis.set_minor_locator(MultipleLocator(0.05))
    ax.set_yticks([0, 1, 2, 3])
    ax.yaxis.set_minor_locator(MultipleLocator(0.2))
    ax.tick_params(which='both', direction='in', left=True, right=True, top=False,
                   width=1.3, labelsize=12.5)
    ax.tick_params(axis='y', which='both', length=5, pad=5)
    ax.tick_params(axis='x', which='major', length=6.5, pad=6)
    ax.tick_params(axis='x', which='minor', length=3)
    if i in (2, 5):
        ax.set_xticklabels(['1.05', '1.25', '1.45'])
    else:
        ax.set_xticklabels(['1.05', '1.25', ''])
    if i == 0:
        ax.set_yticklabels(['0', '1', '2', '3'])
    else:
        ax.tick_params(axis='y', labelleft=False)

    ax.text(0.03, 0.985,
            panel_tags[i] + r'$V_0/\,\lambda_0^{1/2}$= ' + panel_v0[i] + r'$\,\omega_0$',
            transform=ax.transAxes, ha='left', va='top', fontsize=12.4)
    axes.append(ax)

# group titles and shared labels
for cx, title in [(275, '1DW-SOC'), (765, '1DW-JCM')]:
    fig.text(cx / W, 1 - 18 / H, title, ha='center', va='center', fontsize=15.5)
    fig.text(cx / W, 1 - 605 / H, r'$\varepsilon_i\,/\,\omega_0$',
             ha='center', va='center', fontsize=16)
fig.text(22 / W, 1 - 310 / H, 'Transmissivity', rotation=90,
         ha='center', va='center', fontsize=15)

# width legend next to the last panel, at the curve ends
ax_f = axes[-1]
tr = blended_transform_factory(fig.transFigure, ax_f.transData)
fig.text(1018 / W, 1 - 49 / H, r'$w/\lambda_0$', ha='center', va='center', fontsize=13)
for w, lab, t, c in zip(widths, width_labels, jcm_f, colors):
    ax_f.text(1018 / W, w + t[-1], lab, transform=tr, ha='center', va='center',
              fontsize=15, color=c, clip_on=False)

fig.savefig('out.png', dpi=100)
